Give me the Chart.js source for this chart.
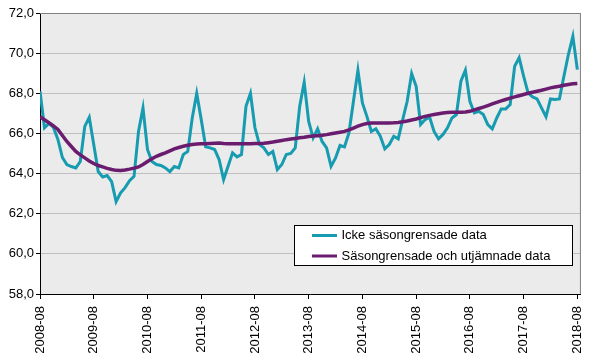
<!DOCTYPE html>
<html><head><meta charset="utf-8">
<script src="https://cdn.jsdelivr.net/npm/chart.js@4"></script>
<style>html,body{margin:0;padding:0;background:#fff}#wrap{width:600px;height:354px}</style>
</head><body><div id="wrap"><canvas id="c" width="600" height="354"></canvas></div>
<script>
const startYear = 2008, startMonth = 8, monthCount = 121;
const categories = [];
for (let i = 0; i < monthCount; i++) {
  const m = (startMonth - 1 + i) % 12 + 1, y = startYear + Math.floor((startMonth - 1 + i) / 12);
  categories.push(y + '-' + String(m).padStart(2, '0'));
}
const tickLabels = ['2008-08','2009-08','2010-08','2011-08','2012-08','2013-08','2014-08','2015-08','2016-08','2017-08','2018-08'];
const seriesNames = ['Icke säsongrensade data', 'Säsongrensade och utjämnade data'];
const unadjusted = [68.1,66.28,66.5,66.3,65.7,64.8,64.45,64.35,64.28,64.6,66.35,66.8,
 65.45,64.1,63.83,63.9,63.6,62.6,63.04,63.3,63.65,63.86,66.1,67.27,
 65.2,64.6,64.45,64.4,64.28,64.1,64.35,64.28,64.95,65.1,66.77,68.0,
 66.7,65.33,65.28,65.2,64.7,63.7,64.36,65.03,64.83,64.95,67.35,68.0,
 66.28,65.45,65.28,64.95,65.1,64.2,64.45,64.95,65.0,65.28,67.35,68.55,
 66.6,65.78,66.23,65.6,65.28,64.36,64.78,65.4,65.33,66.03,67.6,69.15,
 67.52,66.85,66.1,66.23,65.86,65.23,65.45,65.86,65.73,66.69,67.6,68.98,
 68.35,66.44,66.69,66.82,66.1,65.73,65.95,66.28,66.77,66.94,68.6,69.15,
 67.6,67.02,67.1,66.94,66.44,66.23,66.77,67.22,67.22,67.44,69.35,69.77,
 68.85,68.02,67.82,67.72,67.27,66.83,67.72,67.69,67.72,68.85,69.93,70.84,
 69.18];
const smoothed = [66.83,66.68,66.53,66.38,66.2,65.9,65.6,65.35,65.1,64.93,64.78,64.63,
 64.5,64.4,64.33,64.26,64.2,64.16,64.15,64.18,64.22,64.27,64.33,64.45,
 64.6,64.74,64.86,64.95,65.03,65.13,65.23,65.3,65.36,65.41,65.45,65.47,
 65.48,65.49,65.5,65.51,65.52,65.5,65.49,65.48,65.48,65.48,65.49,65.49,
 65.5,65.5,65.51,65.54,65.57,65.61,65.65,65.69,65.72,65.75,65.78,65.81,
 65.85,65.87,65.89,65.91,65.94,65.98,66.02,66.06,66.1,66.18,66.27,66.36,
 66.44,66.49,66.52,66.52,66.52,66.52,66.52,66.53,66.55,66.58,66.62,66.67,
 66.72,66.79,66.85,66.9,66.94,66.98,67.02,67.04,67.05,67.05,67.05,67.07,
 67.1,67.17,67.24,67.31,67.39,67.47,67.55,67.62,67.69,67.76,67.82,67.88,
 67.94,68.0,68.05,68.1,68.15,68.21,68.27,68.31,68.35,68.4,68.44,68.47,
 68.49];
const yTicks = [58,60,62,64,66,68,70,72];
const colors = ['#169bb0', '#6a1d6f'];

const toPts = arr => arr.map((v, i) => ({x: i, y: v}));

const bgPlugin = {
  id: 'bg',
  beforeDraw(chart) {
    const a = chart.chartArea, ctx = chart.ctx;
    ctx.save();
    ctx.fillStyle = '#ebebeb';
    ctx.fillRect(a.left, a.top, a.right - a.left, a.bottom - a.top);
    ctx.restore();
  },
  afterDatasetsDraw(chart) {
    const a = chart.chartArea, ctx = chart.ctx;
    ctx.save();
    ctx.strokeStyle = '#808080';
    ctx.lineWidth = 1;
    ctx.beginPath();
    ctx.moveTo(a.left, a.top + 0.5);
    ctx.lineTo(a.right - 0.5, a.top + 0.5);
    ctx.lineTo(a.right - 0.5, a.bottom);
    ctx.stroke();
    // legend box
    const bx = 294.5, by = 225.5, bw = 278, bh = 40;
    ctx.fillStyle = '#ffffff';
    ctx.fillRect(bx, by, bw, bh);
    ctx.strokeStyle = '#000000';
    ctx.strokeRect(bx, by, bw, bh);
    ctx.font = '13px "Liberation Sans", Arial, sans-serif';
    ctx.textBaseline = 'middle';
    chart.data.datasets.forEach((ds, i) => {
      const cy = by + 10 + i * 20.5;
      ctx.strokeStyle = ds.borderColor;
      ctx.lineWidth = 3;
      ctx.beginPath();
      ctx.moveTo(312, cy);
      ctx.lineTo(337, cy);
      ctx.stroke();
      ctx.fillStyle = '#000';
      ctx.fillText(ds.label, 341.5, cy);
    });
    ctx.restore();
  }
};

new Chart(document.getElementById('c'), {
  type: 'line',
  data: {
    labels: categories,
    datasets: [
      {label: seriesNames[0], data: toPts(unadjusted), borderColor: colors[0], borderWidth: 3, pointRadius: 0, tension: 0, fill: false, order: 1},
      {label: seriesNames[1], data: toPts(smoothed), borderColor: colors[1], borderWidth: 3.5, pointRadius: 0, tension: 0, fill: false, order: 0}
    ]
  },
  options: {
    responsive: false,
    animation: false,
    devicePixelRatio: 1,
    layout: {padding: {top: 13, right: 9, left: 0, bottom: 0}},
    plugins: {legend: {display: false}, tooltip: {enabled: false}},
    scales: {
      x: {
        type: 'linear', min: 0, max: 120.8,
        afterBuildTicks: s => { s.ticks = tickLabels.map((t, k) => ({value: k * 12})); },
        afterFit: s => { s.height = 60; },
        ticks: {
          autoSkip: false, minRotation: 90, maxRotation: 90, padding: 7,
          color: '#000', font: {family: '"Liberation Sans", Arial, sans-serif', size: 13},
          callback: (v, k) => tickLabels[k]
        },
        grid: {drawOnChartArea: false, drawTicks: true, tickLength: 5, tickColor: '#000'},
        border: {color: '#000', width: 1}
      },
      y: {
        min: 58, max: 72,
        afterBuildTicks: s => { s.ticks = yTicks.map(v => ({value: v})); },
        afterFit: s => { s.width = 40; },
        ticks: {
          padding: 2, color: '#000', font: {family: '"Liberation Sans", Arial, sans-serif', size: 13},
          callback: v => v.toFixed(1).replace('.', ',')
        },
        grid: {color: c => (c.tick && c.tick.value === 72) ? '#808080' : '#bfbfbf', lineWidth: 1, drawTicks: true, tickLength: 4, tickColor: '#000'},
        border: {color: '#000', width: 1}
      }
    }
  },
  plugins: [bgPlugin]
});
</script></body></html>
